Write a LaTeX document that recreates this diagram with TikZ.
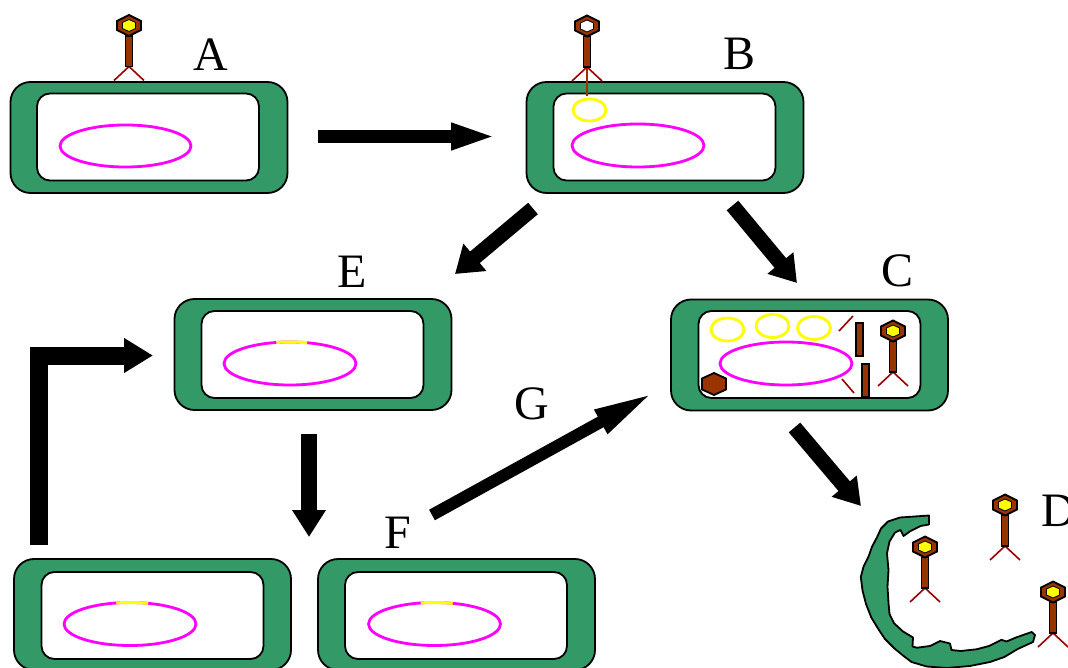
\documentclass[tikz,border=0pt]{standalone}
\usepackage{fontspec}
\setmainfont{Liberation Serif}
\usetikzlibrary{arrows.meta}
\definecolor{cellgreen}{RGB}{51,153,102}
\definecolor{phagebrown}{RGB}{153,51,0}
\definecolor{legred}{RGB}{153,0,0}
\definecolor{dnamag}{RGB}{255,0,255}
\definecolor{dnayel}{RGB}{255,255,0}
\tikzset{
  outercell/.style={draw=black, line width=1.8pt, fill=cellgreen, rounded corners=20pt,
    minimum width=277pt, minimum height=111pt, inner sep=0pt},
  innercell/.style={draw=black, line width=1.8pt, fill=white, rounded corners=13pt,
    minimum width=222pt, minimum height=87pt, inner sep=0pt},
  dna/.style={draw=dnamag, line width=2.8pt},
  prophage/.style={draw=dnayel, line width=3pt},
  phagedna/.style={draw=dnayel, line width=2.8pt},
  legline/.style={draw=legred, line width=1.6pt},
  tailbox/.style={draw=black, line width=1.3pt, fill=phagebrown},
  headhex/.style={draw=black, line width=1.8pt, fill=phagebrown, line join=miter},
  corehex/.style={draw=black, line width=0.8pt},
  steplabel/.style={font=\fontsize{48}{48}\selectfont, inner sep=0pt},
  flowarrow/.style={line width=#1, draw=black, line join=miter},
  pics/phage/.style={code={
    \draw[legline] (0,41) -- (-15,55) (0,41) -- (15,55);
    \draw[tailbox] (-3.5,10.5) rectangle (3.5,41);
    \draw[headhex] (0,-10.5) -- (12,-4.5) -- (12,4.5) -- (0,10.5) -- (-12,4.5) -- (-12,-4.5) -- cycle;
    \draw[corehex, fill=#1] (0,-6) -- (6.5,-3) -- (6.5,3) -- (0,6) -- (-6.5,3) -- (-6.5,-3) -- cycle;
  }}
}
\begin{document}
\begin{tikzpicture}[x=1pt, y=-1pt]
\useasboundingbox (0,0) rectangle (1068,668);

% ---------- cells ----------
\node[outercell] (cellA) at (149,137.5) {};
\node[innercell] (innerA) at (148,137) {};
\draw[dna] (125.5,146) ellipse [x radius=65.5, y radius=21];

\node[outercell] (cellB) at (665,137.5) {};
\node[innercell] (innerB) at (664.5,137) {};
\draw[dna] (638,145.5) ellipse [x radius=66, y radius=21.5];
\draw[phagedna] (589.5,110) ellipse [x radius=16.5, y radius=11];

\node[outercell] (cellE) at (313,354.5) {};
\node[innercell] (innerE) at (312.5,354.5) {};
\draw[dna] (290,363.5) ellipse [x radius=66, y radius=21.5];
\draw[prophage] (290,363.5) ++(-102:66 and 21.5) arc[start angle=-102, end angle=-75, x radius=66, y radius=21.5];

\node[outercell] (cellC) at (809.5,355) {};
\node[innercell] (innerC) at (809.5,354.5) {};
\draw[dna] (786,363.5) ellipse [x radius=66, y radius=21.5];
\draw[phagedna] (727.5,329.5) ellipse [x radius=16.5, y radius=11.5];
\draw[phagedna] (772.5,326) ellipse [x radius=16.5, y radius=11.5];
\draw[phagedna] (814,328) ellipse [x radius=16.5, y radius=11.5];
\draw[legline] (839,331) -- (853,316);
\draw[legline] (842,379) -- (854,393);
\draw[tailbox] (856,323) rectangle (863,356);
\draw[tailbox] (862,364) rectangle (869,397);
\draw[headhex] (714,373) -- (726,378.5) -- (726,389.5) -- (714,395) -- (702,389.5) -- (702,378.5) -- cycle;
\pic at (893,331) {phage=dnayel};

\node[outercell] (cellL) at (152.5,614.5) {};
\node[innercell] (innerL) at (152.5,615.5) {};
\draw[dna] (130,624) ellipse [x radius=66, y radius=21.5];
\draw[prophage] (130,624) ++(-102:66 and 21.5) arc[start angle=-102, end angle=-74, x radius=66, y radius=21.5];

\node[outercell] (cellR) at (456.5,614.5) {};
\node[innercell] (innerR) at (456,615.5) {};
\draw[dna] (434.5,624) ellipse [x radius=66, y radius=21.5];
\draw[prophage] (434.5,624) ++(-102:66 and 21.5) arc[start angle=-102, end angle=-74, x radius=66, y radius=21.5];

% ---------- phages on A and B ----------
\pic at (129,25.5) {phage=dnayel};
\draw[draw=phagebrown, line width=1.5pt] (587,66) -- (587,96);
\pic at (587,26) {phage=white};

% ---------- lysed cell D ----------
\draw[fill=cellgreen, draw=black, line width=1.8pt, line join=round]
  (929,515.5) -- (900,517.5) -- (888,521.5) -- (881,528.5) -- (877,537.3) -- (872,546.7)
  -- (868.5,556.7) -- (863.5,566.7) -- (860.8,577) -- (862.5,590.5) -- (866,604)
  -- (871.3,617.5) -- (878,628.5) -- (884.7,638.7) -- (894.7,648.7) -- (903,655.5)
  -- (911.5,662) -- (926.7,666.5) -- (946.7,668) -- (970,666) -- (990,662)
  -- (1004.3,657) -- (1017.7,649) -- (1033,642) -- (1035,635)
  -- (1031.7,632) -- (1016,637.5) -- (1006.5,641.5) -- (1001.5,639.8) -- (989,646)
  -- (976.5,649.3) -- (960.5,651) -- (951.5,650) -- (950,643.5) -- (940,641)
  -- (930,646) -- (917,647.7) -- (912.5,646.5) -- (913,637.5) -- (903,631.5)
  -- (894,623.2) -- (889.5,614) -- (888.5,603) -- (887.5,586.7) -- (888.5,570)
  -- (887,553.3) -- (889.5,541.5) -- (895,532.5) -- (900.5,530) -- (903.5,536)
  -- (910.5,531) -- (920.5,526) -- (929,524.5) -- cycle;
\pic at (925,547) {phage=dnayel};
\pic at (1005,505) {phage=dnayel};
\pic at (1053,592) {phage=dnayel};

% ---------- labels ----------
\node[steplabel] (labA) at (210.5,54.5) {A};
\node[steplabel] (labB) at (739,54) {B};
\node[steplabel] (labE) at (352.5,271.5) {E};
\node[steplabel] (labC) at (897.5,270.5) {C};
\node[steplabel] (labG) at (532,403.5) {G};
\node[steplabel] (labF) at (398,533) {F};
\node[steplabel, anchor=west] (labD) at (1041,511) {D};

% ---------- arrow end points ----------
\coordinate (ab1) at (318,136.5);  \coordinate (ab2) at (497,136.5);
\coordinate (be1) at (533,208.5);  \coordinate (be2) at (455,274);
\coordinate (bc1) at (732.5,205.5); \coordinate (bc2) at (797,283);
\coordinate (ed1) at (309,434);    \coordinate (ed2) at (309,537);
\coordinate (lp1) at (38.5,545);   \coordinate (lp2) at (153,355.5);
\coordinate (fc1) at (432,515);    \coordinate (fc2) at (655,392);
\coordinate (cd1) at (794.5,427.5); \coordinate (cd2) at (861,506);

% ---------- arrows ----------
\draw[flowarrow=13pt, -{Triangle[length=46pt, width=24pt]}] (ab1) -- (ab2);
\draw[flowarrow=15pt, -{Triangle[length=26pt, width=34pt]}] (be1) -- (be2);
\draw[flowarrow=15pt, -{Triangle[length=26pt, width=32pt]}] (bc1) -- (bc2);
\draw[flowarrow=16pt, -{Triangle[length=27pt, width=32pt]}] (ed1) -- (ed2);
\draw[flowarrow=18pt, -{Triangle[length=29pt, width=33pt]}] (lp1) |- (lp2);
\draw[flowarrow=12pt, -{Triangle[length=62pt, width=24pt]}] (fc1) -- (fc2);
\draw[flowarrow=15pt, -{Triangle[length=26pt, width=31pt]}] (cd1) -- (cd2);
\end{tikzpicture}
\end{document}
